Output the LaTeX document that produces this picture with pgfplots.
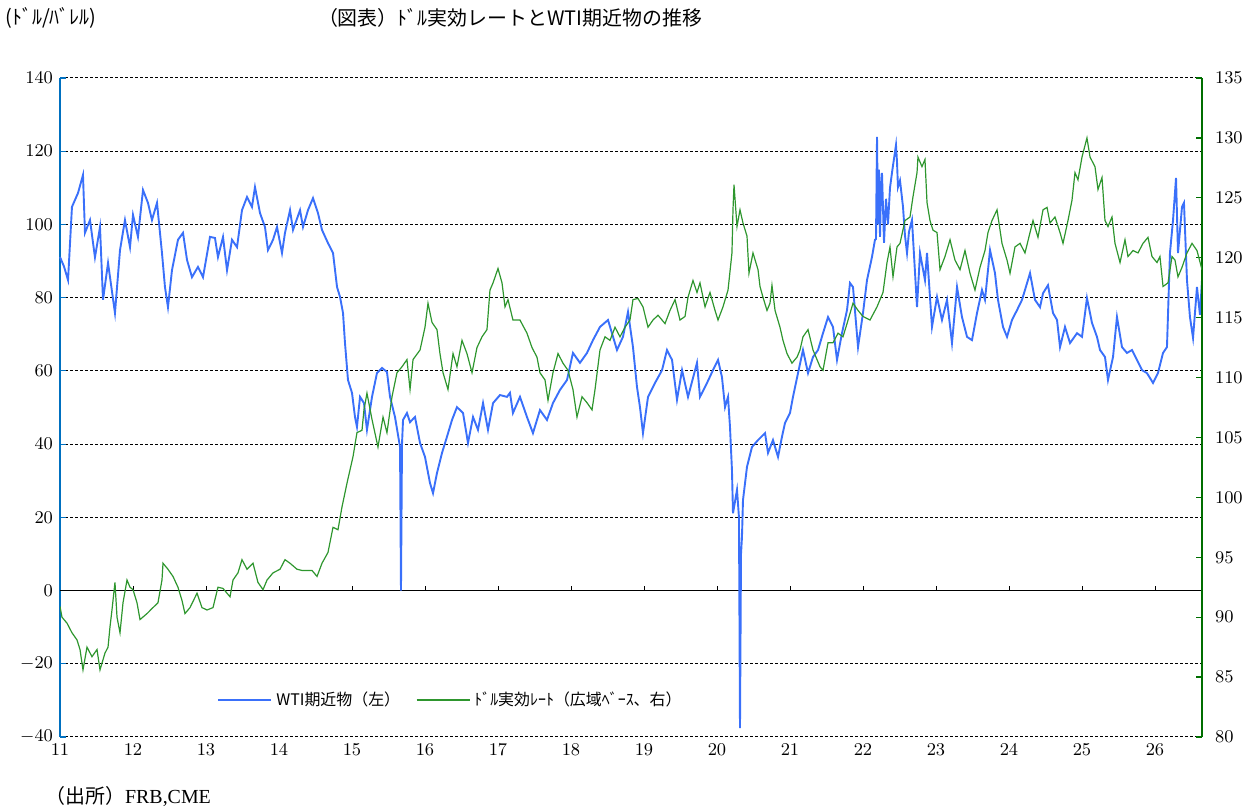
\documentclass[border=0pt]{standalone}
\usepackage{pgfplots}
\pgfplotsset{compat=1.18}
\usepackage{fontspec}
\setmainfont{Liberation Serif}
\newfontfamily\jp{Noto Sans CJK JP}
\definecolor{wtiblue}{RGB}{58,112,250}
\definecolor{usdgreen}{RGB}{46,150,46}
\definecolor{axblue}{RGB}{0,112,192}
\definecolor{axgreen}{RGB}{0,110,0}
\pgfplotstableread{
x y
11.000 91.1
11.055 88.5
11.110 84.8
11.164 104.8
11.247 108.6
11.315 113.5
11.342 97.7
11.411 101.2
11.479 91.0
11.548 99.3
11.589 79.4
11.658 89.5
11.753 75.8
11.822 93.0
11.890 101.2
11.959 93.8
12.000 102.6
12.068 96.6
12.137 109.4
12.205 105.9
12.260 101.2
12.329 105.9
12.397 92.2
12.438 82.9
12.479 77.4
12.534 87.5
12.616 95.8
12.685 97.7
12.740 90.3
12.808 85.6
12.890 88.4
12.959 85.6
13.055 96.6
13.123 96.3
13.164 91.1
13.233 96.6
13.288 87.5
13.356 95.8
13.425 93.8
13.493 103.9
13.562 107.5
13.630 104.8
13.671 110.2
13.740 103.1
13.808 99.3
13.849 93.0
13.918 95.8
13.973 99.3
14.041 92.2
14.082 97.7
14.151 103.9
14.192 98.5
14.288 103.9
14.329 99.3
14.397 103.9
14.466 107.2
14.534 103.1
14.589 98.5
14.671 94.9
14.740 92.2
14.795 82.9
14.836 80.2
14.877 75.8
14.904 67.6
14.945 57.5
15.000 54.0
15.041 47.4
15.068 44.7
15.110 52.9
15.164 51.2
15.205 43.9
15.274 52.9
15.342 59.4
15.411 60.8
15.479 59.7
15.521 52.9
15.589 47.4
15.658 39.2
15.671 0.0
15.685 40.0
15.699 46.6
15.753 48.5
15.795 46.0
15.863 47.4
15.932 40.3
16.000 36.5
16.068 29.4
16.110 26.6
16.164 32.1
16.233 37.6
16.301 42.0
16.370 46.6
16.438 50.1
16.521 48.5
16.589 40.3
16.658 47.4
16.726 43.9
16.795 51.2
16.863 43.9
16.932 51.2
17.027 53.4
17.123 52.9
17.164 54.0
17.205 48.5
17.301 52.9
17.397 47.4
17.479 43.0
17.575 49.3
17.671 46.6
17.753 51.2
17.849 54.8
17.945 57.5
18.027 64.9
18.123 62.2
18.219 64.9
18.301 68.4
18.397 72.0
18.507 73.9
18.630 65.7
18.712 69.3
18.781 76.1
18.849 66.5
18.904 55.6
18.945 50.1
18.986 43.0
19.055 52.9
19.151 56.7
19.247 60.2
19.315 65.7
19.384 63.0
19.452 52.1
19.521 60.2
19.603 52.9
19.726 62.2
19.767 52.9
19.863 56.7
19.945 60.2
20.014 63.0
20.068 58.3
20.110 50.1
20.151 52.9
20.178 44.7
20.205 32.9
20.219 21.1
20.274 27.5
20.301 20.0
20.315 -37.6
20.329 10.0
20.342 14.5
20.356 24.7
20.411 33.8
20.479 39.2
20.562 41.1
20.658 43.0
20.699 37.6
20.767 41.1
20.836 36.5
20.890 42.0
20.932 45.8
21.000 48.5
21.041 52.9
21.110 59.4
21.178 65.7
21.247 59.4
21.315 63.8
21.384 65.7
21.452 70.3
21.521 74.7
21.589 72.0
21.644 63.0
21.712 70.3
21.781 76.6
21.822 84.0
21.863 82.9
21.932 66.5
22.000 75.8
22.055 84.8
22.123 91.1
22.164 95.8
22.178 96.0
22.192 123.9
22.205 100.0
22.219 115.0
22.233 96.6
22.247 110.0
22.260 114.1
22.288 95.0
22.315 107.0
22.342 100.0
22.370 110.0
22.397 114.1
22.425 118.0
22.452 121.7
22.466 117.0
22.479 110.2
22.507 112.0
22.548 104.8
22.575 97.0
22.603 92.2
22.630 98.0
22.671 101.2
22.740 77.4
22.781 92.2
22.849 84.8
22.877 92.2
22.945 72.0
23.014 80.2
23.082 73.9
23.151 79.4
23.219 67.6
23.288 82.9
23.356 74.7
23.425 69.3
23.493 68.4
23.562 75.8
23.630 82.1
23.671 79.4
23.740 93.0
23.808 86.7
23.849 79.4
23.918 72.0
23.973 69.3
24.041 73.9
24.110 76.6
24.178 79.4
24.219 82.1
24.288 86.7
24.356 79.4
24.425 77.4
24.466 81.2
24.534 83.4
24.603 75.8
24.658 73.9
24.699 66.5
24.767 72.0
24.836 67.6
24.932 70.3
25.000 69.3
25.068 79.9
25.137 73.1
25.205 69.3
25.247 65.7
25.315 63.8
25.356 57.5
25.425 63.8
25.479 74.7
25.548 66.5
25.616 64.9
25.685 65.7
25.753 63.0
25.822 60.2
25.890 59.4
25.973 56.7
26.041 59.4
26.110 64.9
26.164 66.5
26.205 92.2
26.247 101.2
26.288 112.7
26.315 92.2
26.370 104.8
26.397 105.9
26.438 84.8
26.479 74.7
26.521 69.0
26.575 82.9
26.616 75.3
26.644 84.8
}\wti
\pgfplotstableread{
x y
11.000 90.9
11.027 90.0
11.096 89.5
11.164 88.7
11.233 88.1
11.274 87.3
11.315 85.6
11.370 87.5
11.438 86.7
11.507 87.3
11.548 85.6
11.616 87.0
11.658 87.5
11.685 89.2
11.712 90.6
11.753 92.9
11.781 90.0
11.822 88.7
11.863 91.2
11.918 93.1
11.959 92.5
12.000 92.3
12.055 91.2
12.096 89.8
12.192 90.3
12.274 90.8
12.342 91.2
12.397 93.1
12.411 94.5
12.479 94.0
12.548 93.4
12.616 92.5
12.671 91.4
12.712 90.3
12.781 90.8
12.877 92.0
12.945 90.8
13.014 90.6
13.096 90.8
13.164 92.5
13.233 92.4
13.329 91.7
13.370 93.1
13.438 93.7
13.493 94.8
13.562 94.0
13.644 94.5
13.712 92.9
13.781 92.3
13.836 93.1
13.918 93.7
14.014 94.0
14.082 94.8
14.151 94.5
14.247 94.0
14.315 93.9
14.452 93.9
14.521 93.4
14.589 94.5
14.671 95.4
14.740 97.5
14.808 97.3
14.863 99.2
14.932 101.2
14.973 102.3
15.014 103.4
15.068 105.4
15.137 105.6
15.164 107.3
15.205 108.7
15.274 106.5
15.356 104.2
15.425 106.7
15.479 105.4
15.548 108.4
15.616 110.4
15.685 110.9
15.753 111.5
15.795 109.0
15.836 111.5
15.932 112.3
16.000 114.2
16.041 116.2
16.096 114.6
16.164 114.0
16.205 112.0
16.247 110.4
16.315 109.0
16.384 112.0
16.438 110.9
16.507 113.1
16.575 112.0
16.644 110.4
16.712 112.5
16.781 113.4
16.849 114.0
16.890 117.3
16.932 117.9
17.000 119.1
17.055 117.9
17.096 115.9
17.137 116.5
17.205 114.8
17.301 114.8
17.397 113.7
17.466 112.5
17.534 111.7
17.575 110.4
17.644 109.8
17.685 108.1
17.753 110.4
17.822 112.0
17.890 111.2
17.959 110.6
18.027 109.0
18.082 106.7
18.151 108.4
18.219 107.9
18.288 107.3
18.329 109.0
18.397 112.3
18.466 113.4
18.534 113.1
18.603 114.2
18.671 113.4
18.740 114.2
18.808 114.8
18.849 116.5
18.918 116.6
18.986 115.9
19.055 114.2
19.123 114.8
19.192 115.2
19.288 114.5
19.356 115.6
19.425 116.5
19.493 114.8
19.562 115.1
19.603 116.7
19.671 118.1
19.726 117.1
19.767 117.9
19.836 115.9
19.904 117.1
19.973 115.6
20.014 114.8
20.082 115.9
20.151 117.3
20.205 120.4
20.219 124.0
20.233 126.1
20.274 122.6
20.315 124.0
20.356 122.9
20.411 121.8
20.438 118.7
20.493 120.4
20.562 119.0
20.589 117.6
20.630 116.7
20.685 115.6
20.726 116.2
20.753 117.7
20.795 115.6
20.863 114.2
20.904 113.1
20.959 112.0
21.027 111.2
21.096 111.7
21.137 112.3
21.178 113.4
21.247 114.0
21.315 112.3
21.411 110.9
21.452 110.6
21.521 112.9
21.589 112.9
21.658 113.7
21.726 113.4
21.781 114.5
21.863 116.2
21.932 115.6
22.000 115.1
22.096 114.8
22.192 115.9
22.274 117.1
22.329 119.6
22.370 120.9
22.411 118.4
22.466 120.9
22.507 121.2
22.575 123.1
22.644 123.4
22.685 125.1
22.740 127.1
22.753 128.4
22.808 127.6
22.849 128.2
22.877 124.6
22.918 123.1
22.959 122.3
23.014 122.1
23.055 119.0
23.123 120.1
23.192 121.5
23.260 119.8
23.329 119.0
23.397 120.6
23.466 118.7
23.534 117.3
23.603 119.2
23.671 120.6
23.712 122.1
23.767 123.1
23.836 124.0
23.904 121.2
23.973 119.8
24.014 118.7
24.082 120.9
24.151 121.2
24.219 120.4
24.288 122.1
24.329 123.1
24.397 121.7
24.466 124.0
24.521 124.2
24.562 122.9
24.630 123.4
24.699 122.1
24.740 121.2
24.808 123.1
24.863 124.8
24.904 127.1
24.945 126.5
25.000 128.4
25.068 130.0
25.110 128.4
25.178 127.6
25.219 125.7
25.274 126.7
25.315 123.1
25.356 122.6
25.411 123.4
25.452 121.2
25.521 119.6
25.589 121.5
25.630 120.1
25.699 120.6
25.767 120.4
25.836 121.2
25.904 121.7
25.959 120.1
26.027 119.6
26.068 120.1
26.110 117.6
26.178 117.9
26.233 120.1
26.274 119.8
26.315 118.4
26.370 119.2
26.438 120.4
26.507 121.2
26.575 120.6
26.644 119.0
}\usd
\begin{document}
\begin{tikzpicture}
\useasboundingbox (0,0) rectangle (622bp,404.5bp);
\begin{axis}[
  at={(30bp,36bp)}, anchor=south west, scale only axis,
  width=571bp, height=329.5bp,
  xmin=11, xmax=26.644, ymin=-40, ymax=140,
  xtick={11,12,...,26}, ytick={-40,-20,...,140},
  axis line style={-},
  axis x line*=bottom, x axis line style={draw=none},
  axis y line*=left, y axis line style={axblue, line width=0.7bp},
  xtick style={draw=none},
  ytick style={axblue, line width=0.6bp},
  tick align=inside, major tick length=3bp,
  ymajorgrids, grid style={black, dash pattern=on 1.5bp off 1bp, line width=0.5bp},
  ticklabel style={font=\fontsize{9}{10}\selectfont},
  clip=false,
  legend columns=2,
  legend cell align=left,
  legend style={at={(0.1375,0.0561)}, anchor=west, draw=none, fill=none, inner sep=0pt,
    font=\jp\fontsize{8}{9}\selectfont,
    /tikz/every even column/.append style={column sep=6bp}},
  legend image code/.code={\draw[#1] (0bp,0bp) -- (26.5bp,0bp);},
]
\draw[black, line width=0.6bp] (axis cs:11,0) -- (axis cs:26.644,0);
\pgfplotsinvokeforeach{12,...,26}{\draw[black, line width=0.5bp] (axis cs:#1,0) -- ([yshift=2.2bp]axis cs:#1,0);}
\addplot[wtiblue, line width=0.95bp] table[x=x,y=y] {\wti};
\addlegendentry{WTI期近物（左）}
\addlegendimage{usdgreen, line width=0.6bp}
\addlegendentry{ﾄﾞﾙ実効ﾚｰﾄ（広域ﾍﾞｰｽ、右）}
\end{axis}
\begin{axis}[
  at={(30bp,36bp)}, anchor=south west, scale only axis,
  width=571bp, height=329.5bp,
  xmin=11, xmax=26.644, ymin=80, ymax=135,
  ytick={80,85,...,135},
  axis line style={-},
  axis x line=none,
  axis y line*=right, y axis line style={axgreen, line width=0.7bp},
  ytick style={axgreen, line width=0.6bp},
  tick align=inside, major tick length=3bp,
  yticklabel style={font=\fontsize{9}{10}\selectfont, xshift=3bp},
]
\addplot[usdgreen, line width=0.6bp] table[x=x,y=y] {\usd};
\end{axis}
\node[anchor=west, inner sep=0pt] at (2.5bp,395.5bp) {\jp\fontsize{10}{12}\selectfont (ﾄﾞﾙ/ﾊﾞﾚﾙ)};
\node[inner sep=0pt] at (255bp,395.5bp) {\jp\fontsize{10}{12}\selectfont （図表）ﾄﾞﾙ実効レートとWTI期近物の推移};
\node[anchor=west, inner sep=0pt] at (22.5bp,6bp) {\fontsize{10}{12}\selectfont{\jp （出所）}FRB,CME};
\end{tikzpicture}
\end{document}
